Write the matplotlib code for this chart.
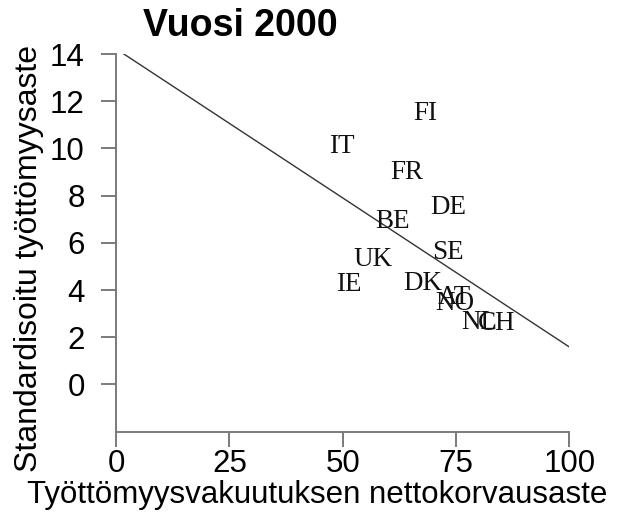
import matplotlib
matplotlib.use("Agg")
import matplotlib.pyplot as plt
import numpy as np

# Country labels placed at (replacement rate, standardised unemployment rate)
countries = ["FI", "IT", "FR", "DE", "BE", "SE", "UK", "IE", "DK", "AT", "NO", "NL", "CH"]
replacement_rate = [68.3, 49.9, 64.2, 73.3, 61.1, 73.2, 56.7, 51.3, 67.6, 74.6, 74.8, 80.1, 84.0]
unemployment = [11.47, 10.10, 9.00, 7.49, 6.90, 5.59, 5.31, 4.23, 4.27, 3.70, 3.43, 2.64, 2.58]

# Fitted line: intercept and slope
fit_intercept = 14.22
fit_slope = -0.1263

x_ticks = [0, 25, 50, 75, 100]
y_ticks = [0, 2, 4, 6, 8, 10, 12, 14]

title = "Vuosi 2000"
x_label = "Työttömyysvakuutuksen nettokorvausaste"
y_label = "Standardisoitu työttömyysaste"

W, H = 641, 517
fig = plt.figure(figsize=(W / 100, H / 100), dpi=100)
fig.patch.set_facecolor("white")

sans = ["Liberation Sans", "DejaVu Sans"]
serif = ["Liberation Serif", "DejaVu Serif"]

ax = fig.add_axes([116 / W, (H - 431.7) / H, (569.3 - 116) / W, (431.7 - 54) / H])
ax.set_xlim(0, 100)
ax.set_ylim(-2, 14)

for s in ["top", "right"]:
    ax.spines[s].set_visible(False)
for s in ["left", "bottom"]:
    ax.spines[s].set_color("#7a7a7a")
    ax.spines[s].set_linewidth(1.4)

ax.set_xticks(x_ticks)
ax.set_yticks(y_ticks)
ax.set_xticklabels([str(v) for v in x_ticks], fontfamily=sans, fontsize=22.5)
ax.set_yticklabels([str(v) for v in y_ticks], fontfamily=sans, fontsize=22.5)
ax.tick_params(axis="both", direction="out", length=10.5, width=1.4, color="#7a7a7a")
ax.tick_params(axis="y", pad=12.0)
ax.tick_params(axis="x", pad=2.0)

# regression line, clipped to the plotting region
xs = np.array([0.0, 100.0])
ax.plot(xs, fit_intercept + fit_slope * xs, color="#333333", linewidth=1.0, clip_on=True)

for name, xv, yv in zip(countries, replacement_rate, unemployment):
    ax.text(xv, yv, name, fontfamily=serif, fontsize=19.5, ha="center", va="center",
            color="#111111")

fig.text(143 / W, (H - 36) / H, title, fontfamily=sans, fontsize=27,
         fontweight="bold", ha="left", va="baseline")
fig.text(317 / W, 14 / H, x_label, fontfamily=sans, fontsize=22.5,
         ha="center", va="baseline")
fig.text(37 / W, (H - 258) / H, y_label, fontfamily=sans, fontsize=23,
         ha="center", va="baseline", rotation=90, rotation_mode="anchor")

fig.savefig("out.png", dpi=100, facecolor="white")
